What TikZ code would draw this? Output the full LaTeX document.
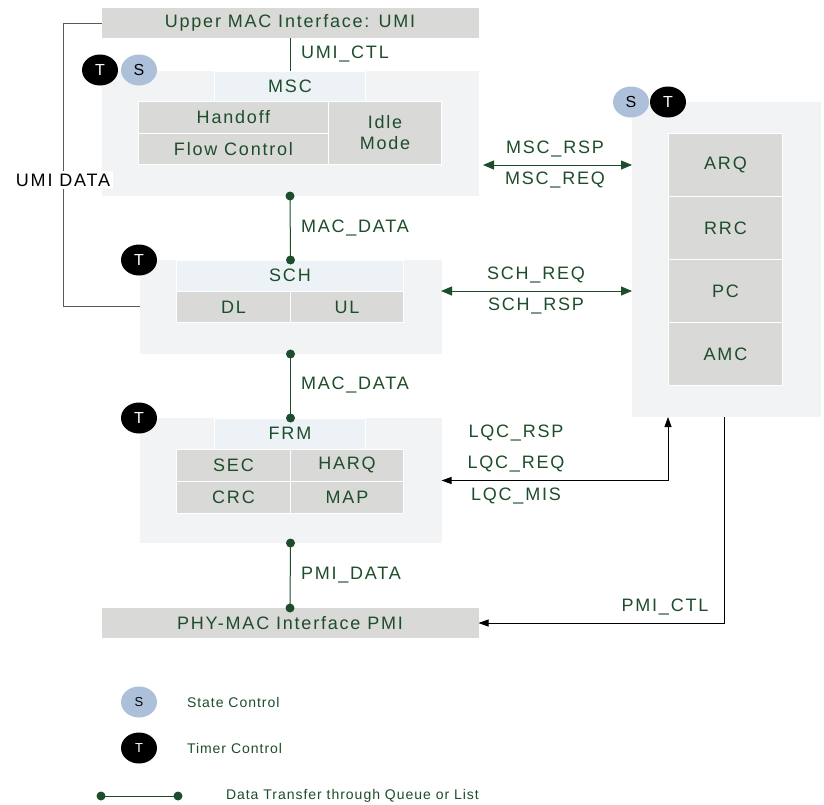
\documentclass[tikz,border=0pt]{standalone}
\usepackage{fontspec}
\setmainfont[LetterSpace=10]{Liberation Sans}
\newfontfamily\legfont[LetterSpace=7]{Liberation Sans}
\usetikzlibrary{arrows.meta,shapes.geometric}
\definecolor{tg}{HTML}{1E4D2B}
\definecolor{boxg}{HTML}{D9D9D7}
\definecolor{outerc}{HTML}{F2F3F5}
\definecolor{titleb}{HTML}{EDF2F7}
\definecolor{sblue}{HTML}{ADC0DA}
\begin{document}
\begin{tikzpicture}[x=1pt,y=-1pt,
  every node/.style={inner sep=0pt,outer sep=0pt},
  outerbox/.style={fill=outerc},
  gbox/.style={fill=boxg,draw=white,line width=1pt,text=tg,font=\fontsize{18}{21}\selectfont},
  titlebox/.style={fill=titleb,draw=white,line width=1pt,text=tg,font=\fontsize{18}{21}\selectfont},
  lbl/.style={text=tg,font=\fontsize{18}{21}\selectfont},
  legtext/.style={text=tg,font=\legfont\fontsize{14}{17}\selectfont,anchor=west},
  tcirc/.style={ellipse,fill=black,text=white,minimum width=36pt,minimum height=31pt,font=\fontsize{16}{19}\selectfont},
  scirc/.style={ellipse,fill=sblue,text=black,minimum width=36pt,minimum height=31pt,font=\fontsize{16}{19}\selectfont},
  dline/.style={draw=tg,line width=1pt},
  garrow/.style={draw=tg,line width=1pt,{Triangle[length=11pt,width=9pt]}-{Triangle[length=11pt,width=9pt]}},
  karrow/.style={draw=black,line width=0.8pt}
]
\useasboundingbox (0,0) rectangle (824,804);
\fill[white] (0,0) rectangle (824,804);

\node[gbox,draw=none,minimum width=377pt,minimum height=30pt] (umi) at (290,23) {Upper MAC Interface: UMI};
\coordinate (umic) at (63,306);

% outer boxes
\node[outerbox,minimum width=377pt,minimum height=125pt] (msc) at (290,133.5) {};
\node[outerbox,minimum width=302pt,minimum height=94pt] (sch) at (290.5,307) {};
\node[outerbox,minimum width=302pt,minimum height=125pt] (frm) at (290.5,480.5) {};
\node[outerbox,minimum width=189pt,minimum height=315pt] (rb) at (726.5,259.5) {};
\node[gbox,draw=none,minimum width=377pt,minimum height=30pt] (pmi) at (290,623) {PHY-MAC Interface PMI};

\draw[draw=black!65,line width=1pt] (umi.west) -| (umic) -- (umic -| sch.west);
\node[lbl,text=black,fill=white,inner sep=3pt] (umidata) at (63,180) {UMI DATA};

% MSC contents
\node[titlebox,minimum width=151pt,minimum height=30pt] (msct) at (290,86) {MSC};
\node[gbox,minimum width=190pt,minimum height=32pt] (hand) at (233.5,117.5) {Handoff};
\node[gbox,minimum width=190pt,minimum height=31pt] (flow) at (233.5,149) {Flow Control};
\node[gbox,minimum width=113pt,minimum height=63pt,align=center] (idle) at (385,133) {Idle\\Mode};

% SCH contents
\node[titlebox,minimum width=227pt,minimum height=31pt] (scht) at (290,275.5) {SCH};
\node[gbox,minimum width=114pt,minimum height=31pt] (dl) at (233.5,307) {DL};
\node[gbox,minimum width=113pt,minimum height=31pt] (ul) at (347,307) {UL};

% FRM contents
\node[titlebox,minimum width=151pt,minimum height=31pt] (frmt) at (290,433.5) {FRM};
\node[gbox,minimum width=114pt,minimum height=32pt] (sec) at (233.5,465) {SEC};
\node[gbox,minimum width=113pt,minimum height=32pt] (harq) at (347,465) {HARQ};
\node[gbox,minimum width=114pt,minimum height=32pt] (crc) at (233.5,497) {CRC};
\node[gbox,minimum width=113pt,minimum height=32pt] (map) at (347,497) {MAP};

% right box contents
\node[gbox,minimum width=114pt,minimum height=64pt] (arq) at (725.5,165) {ARQ};
\node[gbox,minimum width=114pt,minimum height=63pt] (rrc) at (725.5,228) {RRC};
\node[gbox,minimum width=114pt,minimum height=63pt] (pc) at (725.5,291) {PC};
\node[gbox,minimum width=114pt,minimum height=63pt] (amc) at (725.5,354) {AMC};

% T / S markers
\node[tcirc] (t1) at (100,70) {T};
\node[scirc] (s1) at (139,70) {S};
\node[scirc] (s2) at (631,102) {S};
\node[tcirc] (t2) at (668,102) {T};
\node[tcirc] (t3) at (139,260) {T};
\node[tcirc] (t4) at (139,418) {T};

% UMI_CTL
\draw[dline] (umi.south) -- (msc.north);
\node[lbl,anchor=west] (umictl) at (301,54) {UMI\_CTL};

% MAC_DATA 1
\draw[dline] (msc.south) -- (sch.north);
\fill[tg] (msc.south) circle (4.5);
\fill[tg] (sch.north) circle (4.5);
\node[lbl,anchor=west] (md1) at (301,228) {MAC\_DATA};

% MAC_DATA 2
\draw[dline] (sch.south) -- (frm.north);
\fill[tg] (sch.south) circle (4.5);
\fill[tg] (frm.north) circle (4.5);
\node[lbl,anchor=west] (md2) at (301,385) {MAC\_DATA};

% PMI_DATA
\draw[dline] (frm.south) -- (pmi.north);
\fill[tg] (frm.south) circle (4.5);
\fill[tg] (pmi.north) circle (4.5);
\node[lbl,anchor=west] (pd) at (301,575) {PMI\_DATA};

% MSC arrow
\coordinate (mscA) at (483,165);
\draw[garrow] (mscA) -- (mscA -| rb.west);
\node[lbl] (mscrsp) at (555,149) {MSC\_RSP};
\node[lbl] (mscreq) at (555,180) {MSC\_REQ};

% SCH arrow
\coordinate (schA) at (441,291);
\draw[garrow] (schA) -- (schA -| rb.west);
\node[lbl] (schreq) at (536,275) {SCH\_REQ};
\node[lbl] (schrsp) at (536,306) {SCH\_RSP};

% LQC
\coordinate (lqcTop) at (668,417);
\draw[karrow,{Triangle[length=10pt,width=7pt]}-{Triangle[length=10pt,width=7pt]}] (frm.east) -| (lqcTop);
\node[lbl] (lqcrsp) at (516,433) {LQC\_RSP};
\node[lbl] (lqcreq) at (516,464) {LQC\_REQ};
\node[lbl] (lqcmis) at (516,496) {LQC\_MIS};

% PMI_CTL
\coordinate (pmiTop) at (724,417);
\draw[karrow,-{Triangle[length=10pt,width=7pt]}] (pmiTop) |- (pmi.east);
\node[lbl] (pmictl) at (665,607) {PMI\_CTL};

% legend
\node[scirc,font=\fontsize{13}{15}\selectfont] (ls) at (139,702) {S};
\node[legtext] (lst) at (187,702) {State Control};
\node[tcirc,font=\fontsize{13}{15}\selectfont] (lt) at (139,748) {T};
\node[legtext] (ltt) at (187,748) {Timer Control};
\coordinate (la) at (101,796);
\coordinate (lb) at (178,796);
\draw[dline] (la) -- (lb);
\fill[tg] (la) circle (4.5);
\fill[tg] (lb) circle (4.5);
\node[legtext] (ldt) at (226,796) {Data Transfer through Queue or List};
\end{tikzpicture}
\end{document}
